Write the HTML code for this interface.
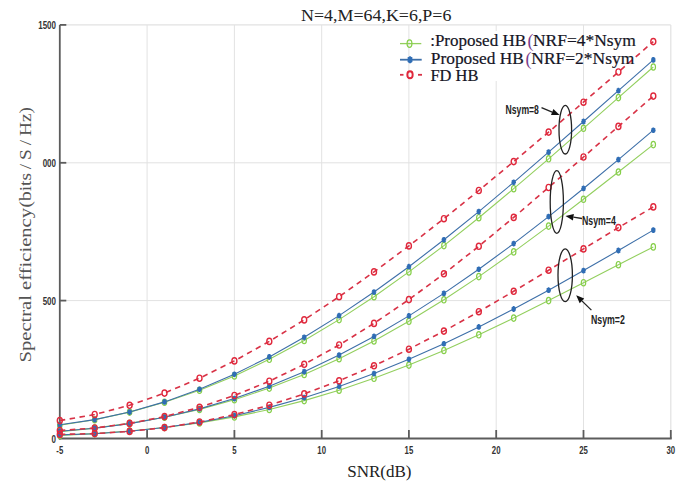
<!DOCTYPE html>
<html><head><meta charset="utf-8"><style>
html,body{margin:0;padding:0;background:#fff;width:685px;height:485px;overflow:hidden;font-family:"Liberation Sans",sans-serif;}
svg{display:block}
</style></head><body>
<svg width="685" height="485" viewBox="0 0 685 485">
<rect x="0" y="0" width="685" height="485" fill="#fff"/>
<line x1="147.1" y1="24.9" x2="147.1" y2="438.5" stroke="#e2e2e2" stroke-width="1"/>
<line x1="234.4" y1="24.9" x2="234.4" y2="438.5" stroke="#e2e2e2" stroke-width="1"/>
<line x1="321.7" y1="24.9" x2="321.7" y2="438.5" stroke="#e2e2e2" stroke-width="1"/>
<line x1="408.9" y1="24.9" x2="408.9" y2="438.5" stroke="#e2e2e2" stroke-width="1"/>
<line x1="496.2" y1="24.9" x2="496.2" y2="438.5" stroke="#e2e2e2" stroke-width="1"/>
<line x1="583.5" y1="24.9" x2="583.5" y2="438.5" stroke="#e2e2e2" stroke-width="1"/>
<line x1="59.8" y1="300.6" x2="670.8" y2="300.6" stroke="#e2e2e2" stroke-width="1"/>
<line x1="59.8" y1="162.8" x2="670.8" y2="162.8" stroke="#e2e2e2" stroke-width="1"/>
<line x1="59.8" y1="24.9" x2="670.8" y2="24.9" stroke="#e2e2e2" stroke-width="1.2"/>
<line x1="670.8" y1="24.9" x2="670.8" y2="438.5" stroke="#e2e2e2" stroke-width="1.2"/>
<line x1="59.8" y1="24.9" x2="59.8" y2="439.5" stroke="#5c5c5c" stroke-width="1.8"/>
<line x1="58.8" y1="438.5" x2="671.6999999999999" y2="438.5" stroke="#5c5c5c" stroke-width="1.8"/>
<line x1="147.1" y1="438.5" x2="147.1" y2="430.0" stroke="#5c5c5c" stroke-width="1.8"/>
<line x1="234.4" y1="438.5" x2="234.4" y2="430.0" stroke="#5c5c5c" stroke-width="1.8"/>
<line x1="321.7" y1="438.5" x2="321.7" y2="430.0" stroke="#5c5c5c" stroke-width="1.8"/>
<line x1="408.9" y1="438.5" x2="408.9" y2="430.0" stroke="#5c5c5c" stroke-width="1.8"/>
<line x1="496.2" y1="438.5" x2="496.2" y2="430.0" stroke="#5c5c5c" stroke-width="1.8"/>
<line x1="583.5" y1="438.5" x2="583.5" y2="430.0" stroke="#5c5c5c" stroke-width="1.8"/>
<line x1="670.8" y1="438.5" x2="670.8" y2="430.0" stroke="#5c5c5c" stroke-width="1.8"/>
<line x1="59.8" y1="300.6" x2="66.3" y2="300.6" stroke="#5c5c5c" stroke-width="1.8"/>
<line x1="59.8" y1="162.8" x2="66.3" y2="162.8" stroke="#5c5c5c" stroke-width="1.8"/>
<line x1="59.8" y1="24.9" x2="66.3" y2="24.9" stroke="#5c5c5c" stroke-width="1.8"/>
<polyline points="59.8,425.2 94.7,419.7 129.6,412.1 164.5,402.3 199.5,390.2 234.4,375.9 269.3,359.3 304.2,340.5 339.1,319.6 374.0,296.7 408.9,271.9 443.9,245.6 478.8,217.7 513.7,188.7 548.6,158.8 583.5,128.3 618.4,97.6 653.3,67.0" fill="none" stroke="#93cf5e" stroke-width="1.1"/>
<ellipse cx="59.8" cy="425.2" rx="2.2" ry="3.2" fill="none" stroke="#86cf4a" stroke-width="1.2"/>
<ellipse cx="94.7" cy="419.7" rx="2.2" ry="3.2" fill="none" stroke="#86cf4a" stroke-width="1.2"/>
<ellipse cx="129.6" cy="412.1" rx="2.2" ry="3.2" fill="none" stroke="#86cf4a" stroke-width="1.2"/>
<ellipse cx="164.5" cy="402.3" rx="2.2" ry="3.2" fill="none" stroke="#86cf4a" stroke-width="1.2"/>
<ellipse cx="199.5" cy="390.2" rx="2.2" ry="3.2" fill="none" stroke="#86cf4a" stroke-width="1.2"/>
<ellipse cx="234.4" cy="375.9" rx="2.2" ry="3.2" fill="none" stroke="#86cf4a" stroke-width="1.2"/>
<ellipse cx="269.3" cy="359.3" rx="2.2" ry="3.2" fill="none" stroke="#86cf4a" stroke-width="1.2"/>
<ellipse cx="304.2" cy="340.5" rx="2.2" ry="3.2" fill="none" stroke="#86cf4a" stroke-width="1.2"/>
<ellipse cx="339.1" cy="319.6" rx="2.2" ry="3.2" fill="none" stroke="#86cf4a" stroke-width="1.2"/>
<ellipse cx="374.0" cy="296.7" rx="2.2" ry="3.2" fill="none" stroke="#86cf4a" stroke-width="1.2"/>
<ellipse cx="408.9" cy="271.9" rx="2.2" ry="3.2" fill="none" stroke="#86cf4a" stroke-width="1.2"/>
<ellipse cx="443.9" cy="245.6" rx="2.2" ry="3.2" fill="none" stroke="#86cf4a" stroke-width="1.2"/>
<ellipse cx="478.8" cy="217.7" rx="2.2" ry="3.2" fill="none" stroke="#86cf4a" stroke-width="1.2"/>
<ellipse cx="513.7" cy="188.7" rx="2.2" ry="3.2" fill="none" stroke="#86cf4a" stroke-width="1.2"/>
<ellipse cx="548.6" cy="158.8" rx="2.2" ry="3.2" fill="none" stroke="#86cf4a" stroke-width="1.2"/>
<ellipse cx="583.5" cy="128.3" rx="2.2" ry="3.2" fill="none" stroke="#86cf4a" stroke-width="1.2"/>
<ellipse cx="618.4" cy="97.6" rx="2.2" ry="3.2" fill="none" stroke="#86cf4a" stroke-width="1.2"/>
<ellipse cx="653.3" cy="67.0" rx="2.2" ry="3.2" fill="none" stroke="#86cf4a" stroke-width="1.2"/>
<polyline points="59.8,431.6 94.7,428.1 129.6,423.4 164.5,417.2 199.5,409.4 234.4,399.7 269.3,388.1 304.2,374.4 339.1,358.7 374.0,341.0 408.9,321.3 443.9,299.8 478.8,276.6 513.7,251.9 548.6,226.1 583.5,199.3 618.4,172.0 653.3,144.6" fill="none" stroke="#93cf5e" stroke-width="1.1"/>
<ellipse cx="59.8" cy="431.6" rx="2.2" ry="3.2" fill="none" stroke="#86cf4a" stroke-width="1.2"/>
<ellipse cx="94.7" cy="428.1" rx="2.2" ry="3.2" fill="none" stroke="#86cf4a" stroke-width="1.2"/>
<ellipse cx="129.6" cy="423.4" rx="2.2" ry="3.2" fill="none" stroke="#86cf4a" stroke-width="1.2"/>
<ellipse cx="164.5" cy="417.2" rx="2.2" ry="3.2" fill="none" stroke="#86cf4a" stroke-width="1.2"/>
<ellipse cx="199.5" cy="409.4" rx="2.2" ry="3.2" fill="none" stroke="#86cf4a" stroke-width="1.2"/>
<ellipse cx="234.4" cy="399.7" rx="2.2" ry="3.2" fill="none" stroke="#86cf4a" stroke-width="1.2"/>
<ellipse cx="269.3" cy="388.1" rx="2.2" ry="3.2" fill="none" stroke="#86cf4a" stroke-width="1.2"/>
<ellipse cx="304.2" cy="374.4" rx="2.2" ry="3.2" fill="none" stroke="#86cf4a" stroke-width="1.2"/>
<ellipse cx="339.1" cy="358.7" rx="2.2" ry="3.2" fill="none" stroke="#86cf4a" stroke-width="1.2"/>
<ellipse cx="374.0" cy="341.0" rx="2.2" ry="3.2" fill="none" stroke="#86cf4a" stroke-width="1.2"/>
<ellipse cx="408.9" cy="321.3" rx="2.2" ry="3.2" fill="none" stroke="#86cf4a" stroke-width="1.2"/>
<ellipse cx="443.9" cy="299.8" rx="2.2" ry="3.2" fill="none" stroke="#86cf4a" stroke-width="1.2"/>
<ellipse cx="478.8" cy="276.6" rx="2.2" ry="3.2" fill="none" stroke="#86cf4a" stroke-width="1.2"/>
<ellipse cx="513.7" cy="251.9" rx="2.2" ry="3.2" fill="none" stroke="#86cf4a" stroke-width="1.2"/>
<ellipse cx="548.6" cy="226.1" rx="2.2" ry="3.2" fill="none" stroke="#86cf4a" stroke-width="1.2"/>
<ellipse cx="583.5" cy="199.3" rx="2.2" ry="3.2" fill="none" stroke="#86cf4a" stroke-width="1.2"/>
<ellipse cx="618.4" cy="172.0" rx="2.2" ry="3.2" fill="none" stroke="#86cf4a" stroke-width="1.2"/>
<ellipse cx="653.3" cy="144.6" rx="2.2" ry="3.2" fill="none" stroke="#86cf4a" stroke-width="1.2"/>
<polyline points="59.8,435.4 94.7,433.6 129.6,431.0 164.5,427.5 199.5,422.9 234.4,416.9 269.3,409.5 304.2,400.6 339.1,390.2 374.0,378.3 408.9,365.1 443.9,350.5 478.8,334.8 513.7,318.1 548.6,300.6 583.5,282.7 618.4,264.7 653.3,246.9" fill="none" stroke="#93cf5e" stroke-width="1.1"/>
<ellipse cx="59.8" cy="435.4" rx="2.2" ry="3.2" fill="none" stroke="#86cf4a" stroke-width="1.2"/>
<ellipse cx="94.7" cy="433.6" rx="2.2" ry="3.2" fill="none" stroke="#86cf4a" stroke-width="1.2"/>
<ellipse cx="129.6" cy="431.0" rx="2.2" ry="3.2" fill="none" stroke="#86cf4a" stroke-width="1.2"/>
<ellipse cx="164.5" cy="427.5" rx="2.2" ry="3.2" fill="none" stroke="#86cf4a" stroke-width="1.2"/>
<ellipse cx="199.5" cy="422.9" rx="2.2" ry="3.2" fill="none" stroke="#86cf4a" stroke-width="1.2"/>
<ellipse cx="234.4" cy="416.9" rx="2.2" ry="3.2" fill="none" stroke="#86cf4a" stroke-width="1.2"/>
<ellipse cx="269.3" cy="409.5" rx="2.2" ry="3.2" fill="none" stroke="#86cf4a" stroke-width="1.2"/>
<ellipse cx="304.2" cy="400.6" rx="2.2" ry="3.2" fill="none" stroke="#86cf4a" stroke-width="1.2"/>
<ellipse cx="339.1" cy="390.2" rx="2.2" ry="3.2" fill="none" stroke="#86cf4a" stroke-width="1.2"/>
<ellipse cx="374.0" cy="378.3" rx="2.2" ry="3.2" fill="none" stroke="#86cf4a" stroke-width="1.2"/>
<ellipse cx="408.9" cy="365.1" rx="2.2" ry="3.2" fill="none" stroke="#86cf4a" stroke-width="1.2"/>
<ellipse cx="443.9" cy="350.5" rx="2.2" ry="3.2" fill="none" stroke="#86cf4a" stroke-width="1.2"/>
<ellipse cx="478.8" cy="334.8" rx="2.2" ry="3.2" fill="none" stroke="#86cf4a" stroke-width="1.2"/>
<ellipse cx="513.7" cy="318.1" rx="2.2" ry="3.2" fill="none" stroke="#86cf4a" stroke-width="1.2"/>
<ellipse cx="548.6" cy="300.6" rx="2.2" ry="3.2" fill="none" stroke="#86cf4a" stroke-width="1.2"/>
<ellipse cx="583.5" cy="282.7" rx="2.2" ry="3.2" fill="none" stroke="#86cf4a" stroke-width="1.2"/>
<ellipse cx="618.4" cy="264.7" rx="2.2" ry="3.2" fill="none" stroke="#86cf4a" stroke-width="1.2"/>
<ellipse cx="653.3" cy="246.9" rx="2.2" ry="3.2" fill="none" stroke="#86cf4a" stroke-width="1.2"/>
<polyline points="59.8,424.7 94.7,419.6 129.6,412.0 164.5,401.9 199.5,389.3 234.4,374.2 269.3,356.9 304.2,337.3 339.1,315.6 374.0,292.0 408.9,266.7 443.9,239.8 478.8,211.6 513.7,182.3 548.6,152.2 583.5,121.5 618.4,90.7 653.3,59.9" fill="none" stroke="#3d6fa8" stroke-width="1.1"/>
<path d="M57.5,424.7H62.1M59.8,421.8V427.6M58.1,422.7L61.5,426.8M58.1,426.8L61.5,422.7" stroke="#2f6db5" stroke-width="1.5" fill="none"/>
<path d="M92.4,419.6H97.0M94.7,416.8V422.5M93.1,417.6L96.4,421.7M93.1,421.7L96.4,417.6" stroke="#2f6db5" stroke-width="1.5" fill="none"/>
<path d="M127.3,412.0H131.9M129.6,409.2V414.9M128.0,410.0L131.3,414.1M128.0,414.1L131.3,410.0" stroke="#2f6db5" stroke-width="1.5" fill="none"/>
<path d="M162.2,401.9H166.8M164.5,399.0V404.8M162.9,399.8L166.2,404.0M162.9,404.0L166.2,399.8" stroke="#2f6db5" stroke-width="1.5" fill="none"/>
<path d="M197.2,389.3H201.8M199.5,386.4V392.1M197.8,387.2L201.1,391.3M197.8,391.3L201.1,387.2" stroke="#2f6db5" stroke-width="1.5" fill="none"/>
<path d="M232.1,374.2H236.7M234.4,371.4V377.1M232.7,372.2L236.0,376.3M232.7,376.3L236.0,372.2" stroke="#2f6db5" stroke-width="1.5" fill="none"/>
<path d="M267.0,356.9H271.6M269.3,354.0V359.7M267.6,354.8L270.9,358.9M267.6,358.9L270.9,354.8" stroke="#2f6db5" stroke-width="1.5" fill="none"/>
<path d="M301.9,337.3H306.5M304.2,334.4V340.2M302.5,335.2L305.9,339.4M302.5,339.4L305.9,335.2" stroke="#2f6db5" stroke-width="1.5" fill="none"/>
<path d="M336.8,315.6H341.4M339.1,312.8V318.5M337.5,313.6L340.8,317.7M337.5,317.7L340.8,313.6" stroke="#2f6db5" stroke-width="1.5" fill="none"/>
<path d="M371.7,292.0H376.3M374.0,289.2V294.9M372.4,290.0L375.7,294.1M372.4,294.1L375.7,290.0" stroke="#2f6db5" stroke-width="1.5" fill="none"/>
<path d="M406.6,266.7H411.2M408.9,263.8V269.6M407.3,264.6L410.6,268.8M407.3,268.8L410.6,264.6" stroke="#2f6db5" stroke-width="1.5" fill="none"/>
<path d="M441.6,239.8H446.2M443.9,236.9V242.7M442.2,237.7L445.5,241.9M442.2,241.9L445.5,237.7" stroke="#2f6db5" stroke-width="1.5" fill="none"/>
<path d="M476.5,211.6H481.1M478.8,208.7V214.5M477.1,209.5L480.4,213.7M477.1,213.7L480.4,209.5" stroke="#2f6db5" stroke-width="1.5" fill="none"/>
<path d="M511.4,182.3H516.0M513.7,179.4V185.2M512.0,180.2L515.3,184.4M512.0,184.4L515.3,180.2" stroke="#2f6db5" stroke-width="1.5" fill="none"/>
<path d="M546.3,152.2H550.9M548.6,149.3V155.0M546.9,150.1L550.3,154.2M546.9,154.2L550.3,150.1" stroke="#2f6db5" stroke-width="1.5" fill="none"/>
<path d="M581.2,121.5H585.8M583.5,118.6V124.4M581.9,119.4L585.2,123.6M581.9,123.6L585.2,119.4" stroke="#2f6db5" stroke-width="1.5" fill="none"/>
<path d="M616.1,90.7H620.7M618.4,87.8V93.5M616.8,88.6L620.1,92.7M616.8,92.7L620.1,88.6" stroke="#2f6db5" stroke-width="1.5" fill="none"/>
<path d="M651.0,59.9H655.6M653.3,57.0V62.8M651.7,57.8L655.0,62.0M651.7,62.0L655.0,57.8" stroke="#2f6db5" stroke-width="1.5" fill="none"/>
<polyline points="59.8,431.2 94.7,428.2 129.6,423.6 164.5,417.2 199.5,408.9 234.4,398.6 269.3,386.2 304.2,371.7 339.1,355.1 374.0,336.5 408.9,315.9 443.9,293.4 478.8,269.3 513.7,243.6 548.6,216.6 583.5,188.5 618.4,159.6 653.3,130.2" fill="none" stroke="#3d6fa8" stroke-width="1.1"/>
<path d="M57.5,431.2H62.1M59.8,428.3V434.0M58.1,429.1L61.5,433.2M58.1,433.2L61.5,429.1" stroke="#2f6db5" stroke-width="1.5" fill="none"/>
<path d="M92.4,428.2H97.0M94.7,425.3V431.1M93.1,426.1L96.4,430.3M93.1,430.3L96.4,426.1" stroke="#2f6db5" stroke-width="1.5" fill="none"/>
<path d="M127.3,423.6H131.9M129.6,420.7V426.5M128.0,421.5L131.3,425.7M128.0,425.7L131.3,421.5" stroke="#2f6db5" stroke-width="1.5" fill="none"/>
<path d="M162.2,417.2H166.8M164.5,414.3V420.1M162.9,415.1L166.2,419.3M162.9,419.3L166.2,415.1" stroke="#2f6db5" stroke-width="1.5" fill="none"/>
<path d="M197.2,408.9H201.8M199.5,406.0V411.8M197.8,406.8L201.1,411.0M197.8,411.0L201.1,406.8" stroke="#2f6db5" stroke-width="1.5" fill="none"/>
<path d="M232.1,398.6H236.7M234.4,395.7V401.4M232.7,396.5L236.0,400.6M232.7,400.6L236.0,396.5" stroke="#2f6db5" stroke-width="1.5" fill="none"/>
<path d="M267.0,386.2H271.6M269.3,383.3V389.0M267.6,384.1L270.9,388.2M267.6,388.2L270.9,384.1" stroke="#2f6db5" stroke-width="1.5" fill="none"/>
<path d="M301.9,371.7H306.5M304.2,368.8V374.5M302.5,369.6L305.9,373.7M302.5,373.7L305.9,369.6" stroke="#2f6db5" stroke-width="1.5" fill="none"/>
<path d="M336.8,355.1H341.4M339.1,352.2V358.0M337.5,353.0L340.8,357.2M337.5,357.2L340.8,353.0" stroke="#2f6db5" stroke-width="1.5" fill="none"/>
<path d="M371.7,336.5H376.3M374.0,333.6V339.3M372.4,334.4L375.7,338.5M372.4,338.5L375.7,334.4" stroke="#2f6db5" stroke-width="1.5" fill="none"/>
<path d="M406.6,315.9H411.2M408.9,313.0V318.7M407.3,313.8L410.6,317.9M407.3,317.9L410.6,313.8" stroke="#2f6db5" stroke-width="1.5" fill="none"/>
<path d="M441.6,293.4H446.2M443.9,290.5V296.3M442.2,291.3L445.5,295.5M442.2,295.5L445.5,291.3" stroke="#2f6db5" stroke-width="1.5" fill="none"/>
<path d="M476.5,269.3H481.1M478.8,266.4V272.1M477.1,267.2L480.4,271.3M477.1,271.3L480.4,267.2" stroke="#2f6db5" stroke-width="1.5" fill="none"/>
<path d="M511.4,243.6H516.0M513.7,240.7V246.4M512.0,241.5L515.3,245.6M512.0,245.6L515.3,241.5" stroke="#2f6db5" stroke-width="1.5" fill="none"/>
<path d="M546.3,216.6H550.9M548.6,213.7V219.4M546.9,214.5L550.3,218.6M546.9,218.6L550.3,214.5" stroke="#2f6db5" stroke-width="1.5" fill="none"/>
<path d="M581.2,188.5H585.8M583.5,185.6V191.3M581.9,186.4L585.2,190.5M581.9,190.5L585.2,186.4" stroke="#2f6db5" stroke-width="1.5" fill="none"/>
<path d="M616.1,159.6H620.7M618.4,156.7V162.5M616.8,157.5L620.1,161.7M616.8,161.7L620.1,157.5" stroke="#2f6db5" stroke-width="1.5" fill="none"/>
<path d="M651.0,130.2H655.6M653.3,127.4V133.1M651.7,128.2L655.0,132.3M651.7,132.3L655.0,128.2" stroke="#2f6db5" stroke-width="1.5" fill="none"/>
<polyline points="59.8,434.9 94.7,433.7 129.6,431.3 164.5,427.5 199.5,422.4 234.4,415.7 269.3,407.4 304.2,397.7 339.1,386.4 374.0,373.5 408.9,359.3 443.9,343.7 478.8,326.9 513.7,309.0 548.6,290.2 583.5,270.6 618.4,250.5 653.3,230.1" fill="none" stroke="#3d6fa8" stroke-width="1.1"/>
<path d="M57.5,434.9H62.1M59.8,432.0V437.7M58.1,432.8L61.5,436.9M58.1,436.9L61.5,432.8" stroke="#2f6db5" stroke-width="1.5" fill="none"/>
<path d="M92.4,433.7H97.0M94.7,430.8V436.6M93.1,431.6L96.4,435.8M93.1,435.8L96.4,431.6" stroke="#2f6db5" stroke-width="1.5" fill="none"/>
<path d="M127.3,431.3H131.9M129.6,428.4V434.2M128.0,429.2L131.3,433.4M128.0,433.4L131.3,429.2" stroke="#2f6db5" stroke-width="1.5" fill="none"/>
<path d="M162.2,427.5H166.8M164.5,424.7V430.4M162.9,425.5L166.2,429.6M162.9,429.6L166.2,425.5" stroke="#2f6db5" stroke-width="1.5" fill="none"/>
<path d="M197.2,422.4H201.8M199.5,419.5V425.2M197.8,420.3L201.1,424.4M197.8,424.4L201.1,420.3" stroke="#2f6db5" stroke-width="1.5" fill="none"/>
<path d="M232.1,415.7H236.7M234.4,412.8V418.5M232.7,413.6L236.0,417.7M232.7,417.7L236.0,413.6" stroke="#2f6db5" stroke-width="1.5" fill="none"/>
<path d="M267.0,407.4H271.6M269.3,404.6V410.3M267.6,405.4L270.9,409.5M267.6,409.5L270.9,405.4" stroke="#2f6db5" stroke-width="1.5" fill="none"/>
<path d="M301.9,397.7H306.5M304.2,394.8V400.5M302.5,395.6L305.9,399.7M302.5,399.7L305.9,395.6" stroke="#2f6db5" stroke-width="1.5" fill="none"/>
<path d="M336.8,386.4H341.4M339.1,383.5V389.2M337.5,384.3L340.8,388.4M337.5,388.4L340.8,384.3" stroke="#2f6db5" stroke-width="1.5" fill="none"/>
<path d="M371.7,373.5H376.3M374.0,370.7V376.4M372.4,371.5L375.7,375.6M372.4,375.6L375.7,371.5" stroke="#2f6db5" stroke-width="1.5" fill="none"/>
<path d="M406.6,359.3H411.2M408.9,356.4V362.2M407.3,357.2L410.6,361.4M407.3,361.4L410.6,357.2" stroke="#2f6db5" stroke-width="1.5" fill="none"/>
<path d="M441.6,343.7H446.2M443.9,340.9V346.6M442.2,341.7L445.5,345.8M442.2,345.8L445.5,341.7" stroke="#2f6db5" stroke-width="1.5" fill="none"/>
<path d="M476.5,326.9H481.1M478.8,324.1V329.8M477.1,324.9L480.4,329.0M477.1,329.0L480.4,324.9" stroke="#2f6db5" stroke-width="1.5" fill="none"/>
<path d="M511.4,309.0H516.0M513.7,306.1V311.9M512.0,307.0L515.3,311.1M512.0,311.1L515.3,307.0" stroke="#2f6db5" stroke-width="1.5" fill="none"/>
<path d="M546.3,290.2H550.9M548.6,287.3V293.1M546.9,288.1L550.3,292.3M546.9,292.3L550.3,288.1" stroke="#2f6db5" stroke-width="1.5" fill="none"/>
<path d="M581.2,270.6H585.8M583.5,267.7V273.5M581.9,268.5L585.2,272.7M581.9,272.7L585.2,268.5" stroke="#2f6db5" stroke-width="1.5" fill="none"/>
<path d="M616.1,250.5H620.7M618.4,247.6V253.4M616.8,248.4L620.1,252.6M616.8,252.6L620.1,248.4" stroke="#2f6db5" stroke-width="1.5" fill="none"/>
<path d="M651.0,230.1H655.6M653.3,227.2V233.0M651.7,228.0L655.0,232.2M651.7,232.2L655.0,228.0" stroke="#2f6db5" stroke-width="1.5" fill="none"/>
<polyline points="59.8,420.6 94.7,414.5 129.6,405.3 164.5,393.1 199.5,378.2 234.4,360.9 269.3,341.4 304.2,319.9 339.1,296.7 374.0,271.9 408.9,245.9 443.9,218.7 478.8,190.5 513.7,161.6 548.6,132.1 583.5,102.2 618.4,72.0 653.3,41.6" fill="none" stroke="#d83246" stroke-width="1.6" stroke-dasharray="5.5 4.5"/>
<ellipse cx="59.8" cy="420.6" rx="2.5" ry="3.1" fill="none" stroke="#e0283c" stroke-width="1.4"/>
<ellipse cx="94.7" cy="414.5" rx="2.5" ry="3.1" fill="none" stroke="#e0283c" stroke-width="1.4"/>
<ellipse cx="129.6" cy="405.3" rx="2.5" ry="3.1" fill="none" stroke="#e0283c" stroke-width="1.4"/>
<ellipse cx="164.5" cy="393.1" rx="2.5" ry="3.1" fill="none" stroke="#e0283c" stroke-width="1.4"/>
<ellipse cx="199.5" cy="378.2" rx="2.5" ry="3.1" fill="none" stroke="#e0283c" stroke-width="1.4"/>
<ellipse cx="234.4" cy="360.9" rx="2.5" ry="3.1" fill="none" stroke="#e0283c" stroke-width="1.4"/>
<ellipse cx="269.3" cy="341.4" rx="2.5" ry="3.1" fill="none" stroke="#e0283c" stroke-width="1.4"/>
<ellipse cx="304.2" cy="319.9" rx="2.5" ry="3.1" fill="none" stroke="#e0283c" stroke-width="1.4"/>
<ellipse cx="339.1" cy="296.7" rx="2.5" ry="3.1" fill="none" stroke="#e0283c" stroke-width="1.4"/>
<ellipse cx="374.0" cy="271.9" rx="2.5" ry="3.1" fill="none" stroke="#e0283c" stroke-width="1.4"/>
<ellipse cx="408.9" cy="245.9" rx="2.5" ry="3.1" fill="none" stroke="#e0283c" stroke-width="1.4"/>
<ellipse cx="443.9" cy="218.7" rx="2.5" ry="3.1" fill="none" stroke="#e0283c" stroke-width="1.4"/>
<ellipse cx="478.8" cy="190.5" rx="2.5" ry="3.1" fill="none" stroke="#e0283c" stroke-width="1.4"/>
<ellipse cx="513.7" cy="161.6" rx="2.5" ry="3.1" fill="none" stroke="#e0283c" stroke-width="1.4"/>
<ellipse cx="548.6" cy="132.1" rx="2.5" ry="3.1" fill="none" stroke="#e0283c" stroke-width="1.4"/>
<ellipse cx="583.5" cy="102.2" rx="2.5" ry="3.1" fill="none" stroke="#e0283c" stroke-width="1.4"/>
<ellipse cx="618.4" cy="72.0" rx="2.5" ry="3.1" fill="none" stroke="#e0283c" stroke-width="1.4"/>
<ellipse cx="653.3" cy="41.6" rx="2.5" ry="3.1" fill="none" stroke="#e0283c" stroke-width="1.4"/>
<polyline points="59.8,430.5 94.7,428.0 129.6,423.4 164.5,416.6 199.5,407.3 234.4,395.5 269.3,381.2 304.2,364.3 339.1,345.0 374.0,323.4 408.9,299.6 443.9,273.8 478.8,246.3 513.7,217.4 548.6,187.5 583.5,157.0 618.4,126.4 653.3,96.1" fill="none" stroke="#d83246" stroke-width="1.6" stroke-dasharray="5.5 4.5"/>
<ellipse cx="59.8" cy="430.5" rx="2.5" ry="3.1" fill="none" stroke="#e0283c" stroke-width="1.4"/>
<ellipse cx="94.7" cy="428.0" rx="2.5" ry="3.1" fill="none" stroke="#e0283c" stroke-width="1.4"/>
<ellipse cx="129.6" cy="423.4" rx="2.5" ry="3.1" fill="none" stroke="#e0283c" stroke-width="1.4"/>
<ellipse cx="164.5" cy="416.6" rx="2.5" ry="3.1" fill="none" stroke="#e0283c" stroke-width="1.4"/>
<ellipse cx="199.5" cy="407.3" rx="2.5" ry="3.1" fill="none" stroke="#e0283c" stroke-width="1.4"/>
<ellipse cx="234.4" cy="395.5" rx="2.5" ry="3.1" fill="none" stroke="#e0283c" stroke-width="1.4"/>
<ellipse cx="269.3" cy="381.2" rx="2.5" ry="3.1" fill="none" stroke="#e0283c" stroke-width="1.4"/>
<ellipse cx="304.2" cy="364.3" rx="2.5" ry="3.1" fill="none" stroke="#e0283c" stroke-width="1.4"/>
<ellipse cx="339.1" cy="345.0" rx="2.5" ry="3.1" fill="none" stroke="#e0283c" stroke-width="1.4"/>
<ellipse cx="374.0" cy="323.4" rx="2.5" ry="3.1" fill="none" stroke="#e0283c" stroke-width="1.4"/>
<ellipse cx="408.9" cy="299.6" rx="2.5" ry="3.1" fill="none" stroke="#e0283c" stroke-width="1.4"/>
<ellipse cx="443.9" cy="273.8" rx="2.5" ry="3.1" fill="none" stroke="#e0283c" stroke-width="1.4"/>
<ellipse cx="478.8" cy="246.3" rx="2.5" ry="3.1" fill="none" stroke="#e0283c" stroke-width="1.4"/>
<ellipse cx="513.7" cy="217.4" rx="2.5" ry="3.1" fill="none" stroke="#e0283c" stroke-width="1.4"/>
<ellipse cx="548.6" cy="187.5" rx="2.5" ry="3.1" fill="none" stroke="#e0283c" stroke-width="1.4"/>
<ellipse cx="583.5" cy="157.0" rx="2.5" ry="3.1" fill="none" stroke="#e0283c" stroke-width="1.4"/>
<ellipse cx="618.4" cy="126.4" rx="2.5" ry="3.1" fill="none" stroke="#e0283c" stroke-width="1.4"/>
<ellipse cx="653.3" cy="96.1" rx="2.5" ry="3.1" fill="none" stroke="#e0283c" stroke-width="1.4"/>
<polyline points="59.8,434.4 94.7,433.6 129.6,431.4 164.5,427.6 199.5,422.0 234.4,414.6 269.3,405.2 304.2,393.9 339.1,380.8 374.0,365.8 408.9,349.2 443.9,331.1 478.8,311.7 513.7,291.3 548.6,270.2 583.5,248.9 618.4,227.6 653.3,206.9" fill="none" stroke="#d83246" stroke-width="1.6" stroke-dasharray="5.5 4.5"/>
<ellipse cx="59.8" cy="434.4" rx="2.5" ry="3.1" fill="none" stroke="#e0283c" stroke-width="1.4"/>
<ellipse cx="94.7" cy="433.6" rx="2.5" ry="3.1" fill="none" stroke="#e0283c" stroke-width="1.4"/>
<ellipse cx="129.6" cy="431.4" rx="2.5" ry="3.1" fill="none" stroke="#e0283c" stroke-width="1.4"/>
<ellipse cx="164.5" cy="427.6" rx="2.5" ry="3.1" fill="none" stroke="#e0283c" stroke-width="1.4"/>
<ellipse cx="199.5" cy="422.0" rx="2.5" ry="3.1" fill="none" stroke="#e0283c" stroke-width="1.4"/>
<ellipse cx="234.4" cy="414.6" rx="2.5" ry="3.1" fill="none" stroke="#e0283c" stroke-width="1.4"/>
<ellipse cx="269.3" cy="405.2" rx="2.5" ry="3.1" fill="none" stroke="#e0283c" stroke-width="1.4"/>
<ellipse cx="304.2" cy="393.9" rx="2.5" ry="3.1" fill="none" stroke="#e0283c" stroke-width="1.4"/>
<ellipse cx="339.1" cy="380.8" rx="2.5" ry="3.1" fill="none" stroke="#e0283c" stroke-width="1.4"/>
<ellipse cx="374.0" cy="365.8" rx="2.5" ry="3.1" fill="none" stroke="#e0283c" stroke-width="1.4"/>
<ellipse cx="408.9" cy="349.2" rx="2.5" ry="3.1" fill="none" stroke="#e0283c" stroke-width="1.4"/>
<ellipse cx="443.9" cy="331.1" rx="2.5" ry="3.1" fill="none" stroke="#e0283c" stroke-width="1.4"/>
<ellipse cx="478.8" cy="311.7" rx="2.5" ry="3.1" fill="none" stroke="#e0283c" stroke-width="1.4"/>
<ellipse cx="513.7" cy="291.3" rx="2.5" ry="3.1" fill="none" stroke="#e0283c" stroke-width="1.4"/>
<ellipse cx="548.6" cy="270.2" rx="2.5" ry="3.1" fill="none" stroke="#e0283c" stroke-width="1.4"/>
<ellipse cx="583.5" cy="248.9" rx="2.5" ry="3.1" fill="none" stroke="#e0283c" stroke-width="1.4"/>
<ellipse cx="618.4" cy="227.6" rx="2.5" ry="3.1" fill="none" stroke="#e0283c" stroke-width="1.4"/>
<ellipse cx="653.3" cy="206.9" rx="2.5" ry="3.1" fill="none" stroke="#e0283c" stroke-width="1.4"/>
<text transform="translate(59.8,453.8) scale(0.78,1)" text-anchor="middle" font-family="Liberation Sans, sans-serif" font-weight="bold" font-size="10" fill="#333">-5</text>
<text transform="translate(147.1,453.8) scale(0.78,1)" text-anchor="middle" font-family="Liberation Sans, sans-serif" font-weight="bold" font-size="10" fill="#333">0</text>
<text transform="translate(234.4,453.8) scale(0.78,1)" text-anchor="middle" font-family="Liberation Sans, sans-serif" font-weight="bold" font-size="10" fill="#333">5</text>
<text transform="translate(321.7,453.8) scale(0.78,1)" text-anchor="middle" font-family="Liberation Sans, sans-serif" font-weight="bold" font-size="10" fill="#333">10</text>
<text transform="translate(408.9,453.8) scale(0.78,1)" text-anchor="middle" font-family="Liberation Sans, sans-serif" font-weight="bold" font-size="10" fill="#333">15</text>
<text transform="translate(496.2,453.8) scale(0.78,1)" text-anchor="middle" font-family="Liberation Sans, sans-serif" font-weight="bold" font-size="10" fill="#333">20</text>
<text transform="translate(583.5,453.8) scale(0.78,1)" text-anchor="middle" font-family="Liberation Sans, sans-serif" font-weight="bold" font-size="10" fill="#333">25</text>
<text transform="translate(670.8,453.8) scale(0.78,1)" text-anchor="middle" font-family="Liberation Sans, sans-serif" font-weight="bold" font-size="10" fill="#333">30</text>
<text transform="translate(56,442.9) scale(0.8,1)" text-anchor="end" font-family="Liberation Sans, sans-serif" font-weight="bold" font-size="10" fill="#333">0</text>
<text transform="translate(56,305.0) scale(0.8,1)" text-anchor="end" font-family="Liberation Sans, sans-serif" font-weight="bold" font-size="10" fill="#333">500</text>
<text transform="translate(56,167.2) scale(0.8,1)" text-anchor="end" font-family="Liberation Sans, sans-serif" font-weight="bold" font-size="10" fill="#333">000</text>
<text transform="translate(56,29.3) scale(0.8,1)" text-anchor="end" font-family="Liberation Sans, sans-serif" font-weight="bold" font-size="10" fill="#333">1500</text>
<text x="301" y="20.8" font-family="Liberation Serif, serif" font-size="16.5" fill="#222" textLength="150.4" lengthAdjust="spacingAndGlyphs">N=4,M=64,K=6,P=6</text>
<text x="347.2" y="476.8" font-family="Liberation Serif, serif" font-size="16.5" fill="#222" textLength="64.3" lengthAdjust="spacingAndGlyphs">SNR(dB)</text>
<text transform="translate(31.2,362.5) rotate(-90)" font-family="Liberation Serif, serif" font-size="17" fill="#555" textLength="154.5" lengthAdjust="spacingAndGlyphs">Spectral efficiency</text>
<text transform="translate(31.2,207.5) rotate(-90)" font-family="Liberation Serif, serif" font-size="17" fill="#555" textLength="100.5" lengthAdjust="spacingAndGlyphs">(bits / S / Hz)</text>
<line x1="400" y1="43.6" x2="421.3" y2="43.6" stroke="#93cf5e" stroke-width="1.3"/>
<ellipse cx="409.5" cy="43.6" rx="2.4" ry="3.8" fill="none" stroke="#86cf4a" stroke-width="1.3"/>
<line x1="400" y1="59.7" x2="421.7" y2="59.7" stroke="#3d6fa8" stroke-width="1.8"/>
<path d="M407.2,59.7H412.8M410.0,56.2V63.2M408.0,57.2L412.0,62.2M408.0,62.2L412.0,57.2" stroke="#2f6db5" stroke-width="1.8" fill="none"/>
<line x1="400" y1="74.8" x2="403.5" y2="74.8" stroke="#d83246" stroke-width="1.8"/>
<line x1="418" y1="74.8" x2="422" y2="74.8" stroke="#d83246" stroke-width="1.8"/>
<ellipse cx="410" cy="74.8" rx="2.7" ry="3.5" fill="none" stroke="#e0283c" stroke-width="1.9"/>
<rect x="426" y="31" width="148" height="50" fill="#fff"/>
<text x="430.2" y="45.8" font-family="Liberation Serif, serif" font-size="16.5" fill="#151525" stroke="#151525" stroke-width="0.2" textLength="95.8" lengthAdjust="spacingAndGlyphs">:Proposed HB</text>
<text x="527.6" y="46.8" font-family="Liberation Serif, serif" fill="#7a3d8c" font-size="18">(</text>
<text x="533" y="45.8" font-family="Liberation Serif, serif" font-size="16.5" fill="#151525" stroke="#151525" stroke-width="0.2" textLength="102.9" lengthAdjust="spacingAndGlyphs">NRF=4*Nsym</text>
<text x="430.8" y="63.9" font-family="Liberation Serif, serif" font-size="16.5" fill="#151525" stroke="#151525" stroke-width="0.2" textLength="93" lengthAdjust="spacingAndGlyphs">Proposed HB</text>
<text x="525.6" y="64.9" font-family="Liberation Serif, serif" fill="#7a3d8c" font-size="18">(</text>
<text x="531.3" y="63.9" font-family="Liberation Serif, serif" font-size="16.5" fill="#151525" stroke="#151525" stroke-width="0.2" textLength="103" lengthAdjust="spacingAndGlyphs">NRF=2*Nsym</text>
<text x="430.4" y="81.4" font-family="Liberation Serif, serif" font-size="16.5" fill="#151525" stroke="#151525" stroke-width="0.2" textLength="48" lengthAdjust="spacingAndGlyphs">FD HB</text>
<ellipse cx="565.3" cy="129.7" rx="6.3" ry="24.3" fill="none" stroke="#222" stroke-width="1.3"/>
<ellipse cx="556.8" cy="202" rx="6.6" ry="31.3" fill="none" stroke="#222" stroke-width="1.3"/>
<ellipse cx="565.2" cy="275.2" rx="7.2" ry="26.4" fill="none" stroke="#222" stroke-width="1.3"/>
<line x1="541.5" y1="107.7" x2="552.2" y2="112.1" stroke="#222" stroke-width="1.3"/><polygon points="559.6,115.1 551.0,115.0 553.4,109.1" fill="#111"/>
<line x1="582" y1="218.5" x2="573.4" y2="217.2" stroke="#222" stroke-width="1.3"/><polygon points="565.5,216 573.9,214.0 572.9,220.4" fill="#111"/>
<line x1="591.4" y1="310.1" x2="581.9" y2="300.9" stroke="#222" stroke-width="1.3"/><polygon points="576.2,295.3 584.2,298.6 579.7,303.2" fill="#111"/>
<text x="505.6" y="113.8" font-family="Liberation Sans, sans-serif" font-weight="bold" font-size="12.2" fill="#222" textLength="33.3" lengthAdjust="spacingAndGlyphs">Nsym=8</text>
<text x="582" y="225.1" font-family="Liberation Sans, sans-serif" font-weight="bold" font-size="12.2" fill="#222" textLength="33.8" lengthAdjust="spacingAndGlyphs">Nsym=4</text>
<text x="591" y="323.9" font-family="Liberation Sans, sans-serif" font-weight="bold" font-size="12.2" fill="#222" textLength="33.8" lengthAdjust="spacingAndGlyphs">Nsym=2</text>
</svg>
</body></html>
